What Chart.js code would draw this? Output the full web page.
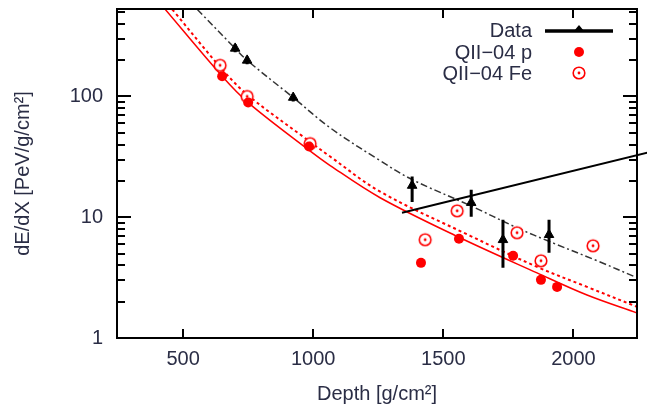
<!DOCTYPE html>
<html>
<head>
<meta charset="utf-8">
<script src="https://cdn.jsdelivr.net/npm/chart.js@4.4.0/dist/chart.umd.min.js"></script>
<style>
html, body { margin: 0; padding: 0; background: #fff; }
#chart { display: block; }
</style>
</head>
<body>
<canvas id="chart" width="647" height="413"></canvas>
<script>
// measured points
var dataDepth = [700, 746, 923, 1380, 1607, 1729, 1906];
var dataDedx = [250, 199, 98, 18.3, 13.2, 6.5, 7.16];
var dataErrLow = [232, 185, 91, 13.4, 10.1, 3.81, 5.08];
var dataErrHigh = [270, 214, 105, 21.7, 16.9, 9.53, 9.53];

// QII-04 proton showers
var pDepth = [650, 750, 984, 1414, 1560, 1768, 1875, 1937];
var pDedx = [147, 89, 38.5, 4.19, 6.63, 4.79, 3.03, 2.65];

// QII-04 iron showers
var feDepth = [642, 746, 988, 1553, 1430, 1783, 1875, 2075];
var feDedx = [181, 100, 40.7, 11.3, 6.51, 7.44, 4.36, 5.8];

// fit curves
var fitDataDepth = [554, 700, 746, 923, 1065, 1257, 1380, 1603, 1783, 1910, 2091, 2245];
var fitDataDedx = [527, 250, 199, 98, 55, 29.4, 20.5, 12.5, 8.18, 6.26, 4.36, 3.15];
var fitPDepth = [431, 650, 750, 976, 1065, 1257, 1564, 1860, 2052, 2245];
var fitPDedx = [527, 147, 89, 37.0, 26.8, 14.5, 6.76, 3.46, 2.27, 1.61];
var fitFeDepth = [458, 650, 750, 976, 1065, 1257, 1603, 1860, 2052, 2245];
var fitFeDedx = [527, 168, 102, 44, 31.8, 16.3, 7.02, 3.88, 2.65, 1.81];

// annotation line
var pointerDepth = [1341, 2333];
var pointerDedx = [10.9, 36.3];

var xTicks = [500, 1000, 1500, 2000];
var yTicks = [1, 2, 3, 4, 5, 6, 7, 8, 9, 10, 20, 30, 40, 50, 60, 70, 80, 90, 100, 200, 300, 400, 500];
var yLabels = [1, 10, 100];

var textColor = '#2a2d45';
var font = 'Liberation Sans, Arial, sans-serif';

function pts(xs, ys) {
    var out = [];
    for (var i = 0; i < xs.length; i++) out.push({x: xs[i], y: ys[i]});
    return out;
}

function feMarker() {
    var c = document.createElement('canvas');
    c.width = 16; c.height = 16;
    var g = c.getContext('2d');
    g.strokeStyle = '#ff0000';
    g.lineWidth = 1.6;
    g.fillStyle = '#fff';
    g.beginPath(); g.arc(8, 8, 5.8, 0, Math.PI * 2); g.fill(); g.stroke();
    g.fillStyle = '#ff0000';
    g.beginPath(); g.arc(8, 8, 1.4, 0, Math.PI * 2); g.fill();
    return c;
}
var feImg = feMarker();

var errorBars = {
    id: 'errorBars',
    afterDatasetsDraw: function (chart) {
        var ctx = chart.ctx, ys = chart.scales.y;
        var meta = chart.getDatasetMeta(0);
        ctx.save();
        ctx.strokeStyle = '#000';
        ctx.lineWidth = 3;
        ctx.beginPath();
        meta.data.forEach(function (el, i) {
            ctx.moveTo(el.x, ys.getPixelForValue(dataErrLow[i]));
            ctx.lineTo(el.x, ys.getPixelForValue(dataErrHigh[i]));
        });
        ctx.stroke();
        ctx.restore();
    }
};

var frame = {
    id: 'frame',
    afterDraw: function (chart) {
        var ctx = chart.ctx, a = chart.chartArea;
        var xs = chart.scales.x, ys = chart.scales.y;
        ctx.save();
        ctx.strokeStyle = '#000';
        ctx.lineWidth = 2;
        ctx.strokeRect(a.left, a.top, a.right - a.left, a.bottom - a.top);
        ctx.beginPath();
        xTicks.forEach(function (v) {
            var px = Math.round(xs.getPixelForValue(v));
            ctx.moveTo(px, a.bottom); ctx.lineTo(px, a.bottom - 9);
            ctx.moveTo(px, a.top); ctx.lineTo(px, a.top + 9);
        });
        yTicks.forEach(function (v) {
            var py = Math.round(ys.getPixelForValue(v));
            var len = yLabels.indexOf(v) >= 0 ? 14 : 8;
            ctx.moveTo(a.left, py); ctx.lineTo(a.left + len, py);
            ctx.moveTo(a.right, py); ctx.lineTo(a.right - len, py);
        });
        ctx.stroke();

        // legend, text on the left, sample on the right
        var rows = [30, 52, 73];
        var tx = 532, sx = 579;
        ctx.fillStyle = textColor;
        ctx.font = '20px ' + font;
        ctx.textAlign = 'right';
        ctx.textBaseline = 'middle';
        [0, 1, 2].forEach(function (k) {
            ctx.fillText(chart.data.datasets[k].label, tx, rows[k] + 1);
        });
        ctx.strokeStyle = '#000';
        ctx.lineWidth = 3.5;
        ctx.beginPath();
        ctx.moveTo(545, rows[0] + 1); ctx.lineTo(613, rows[0] + 1);
        ctx.stroke();
        ctx.fillStyle = '#000';
        ctx.beginPath();
        ctx.moveTo(sx, rows[0] - 5); ctx.lineTo(sx + 5, rows[0] + 1); ctx.lineTo(sx - 5, rows[0] + 1);
        ctx.closePath(); ctx.fill();
        ctx.fillStyle = '#ff0000';
        ctx.beginPath(); ctx.arc(sx, rows[1], 5, 0, Math.PI * 2); ctx.fill();
        ctx.drawImage(feImg, sx - 8, rows[2] - 8);
        ctx.restore();
    }
};

var config = {
    type: 'scatter',
    data: {
        datasets: [{
            label: 'Data',
            data: pts(dataDepth, dataDedx),
            pointStyle: 'triangle',
            pointRadius: 5.5,
            backgroundColor: '#000',
            borderColor: '#000',
            borderWidth: 1
        }, {
            label: 'QII\u221204 p',
            data: pts(pDepth, pDedx),
            pointStyle: 'circle',
            pointRadius: 5,
            backgroundColor: '#ff0000',
            borderColor: '#ff0000',
            borderWidth: 0
        }, {
            label: 'QII\u221204 Fe',
            data: pts(feDepth, feDedx),
            pointStyle: feImg,
            pointRadius: 6
        }, {
            label: 'pointer',
            data: pts(pointerDepth, pointerDedx),
            showLine: true,
            pointRadius: 0,
            borderColor: '#000',
            borderWidth: 2,
            clip: false
        }, {
            label: 'fit data',
            data: pts(fitDataDepth, fitDataDedx),
            showLine: true,
            pointRadius: 0,
            borderColor: '#333',
            borderWidth: 1.5,
            borderDash: [7, 3, 2, 3],
            tension: 0.35
        }, {
            label: 'fit p',
            data: pts(fitPDepth, fitPDedx),
            showLine: true,
            pointRadius: 0,
            borderColor: '#ff0000',
            borderWidth: 1.5,
            tension: 0.35
        }, {
            label: 'fit Fe',
            data: pts(fitFeDepth, fitFeDedx),
            showLine: true,
            pointRadius: 0,
            borderColor: '#ff0000',
            borderWidth: 2,
            borderDash: [3, 3],
            tension: 0.35
        }]
    },
    options: {
        responsive: false,
        animation: false,
        events: [],
        layout: { padding: { left: 0, right: 10, top: 9, bottom: 0 } },
        plugins: {
            legend: { display: false },
            tooltip: { enabled: false }
        },
        scales: {
            x: {
                type: 'linear',
                min: 246,
                max: 2244,
                grid: { display: false, drawTicks: false },
                border: { display: false },
                afterBuildTicks: function (scale) {
                    scale.ticks = xTicks.map(function (v) { return {value: v}; });
                },
                afterFit: function (scale) {
                    scale.height = 75;
                    scale.paddingLeft = 0;
                    scale.paddingRight = 0;
                },
                ticks: {
                    color: textColor,
                    font: { family: font, size: 20 },
                    padding: 9,
                    maxRotation: 0,
                    callback: function (v) { return String(v); }
                },
                title: {
                    display: true,
                    text: 'Depth [g/cm\u00b2]',
                    color: textColor,
                    font: { family: font, size: 20 },
                    padding: { top: 0, bottom: 7 }
                }
            },
            y: {
                type: 'logarithmic',
                min: 1,
                max: 530,
                grid: { display: false, drawTicks: false },
                border: { display: false },
                afterBuildTicks: function (scale) {
                    scale.ticks = yTicks.map(function (v) { return {value: v}; });
                },
                afterFit: function (scale) {
                    scale.width = 117;
                    scale.paddingTop = 0;
                    scale.paddingBottom = 0;
                },
                ticks: {
                    color: textColor,
                    font: { family: font, size: 20 },
                    padding: 14,
                    autoSkip: false,
                    callback: function (v) {
                        return yLabels.indexOf(v) >= 0 ? String(v) : '';
                    }
                },
                title: {
                    display: true,
                    text: 'dE/dX [PeV/g/cm\u00b2]',
                    color: textColor,
                    font: { family: font, size: 20 },
                    padding: { top: 11, bottom: 0 }
                }
            }
        }
    },
    plugins: [errorBars, frame]
};

new Chart(document.getElementById('chart'), config);
</script>
</body>
</html>
